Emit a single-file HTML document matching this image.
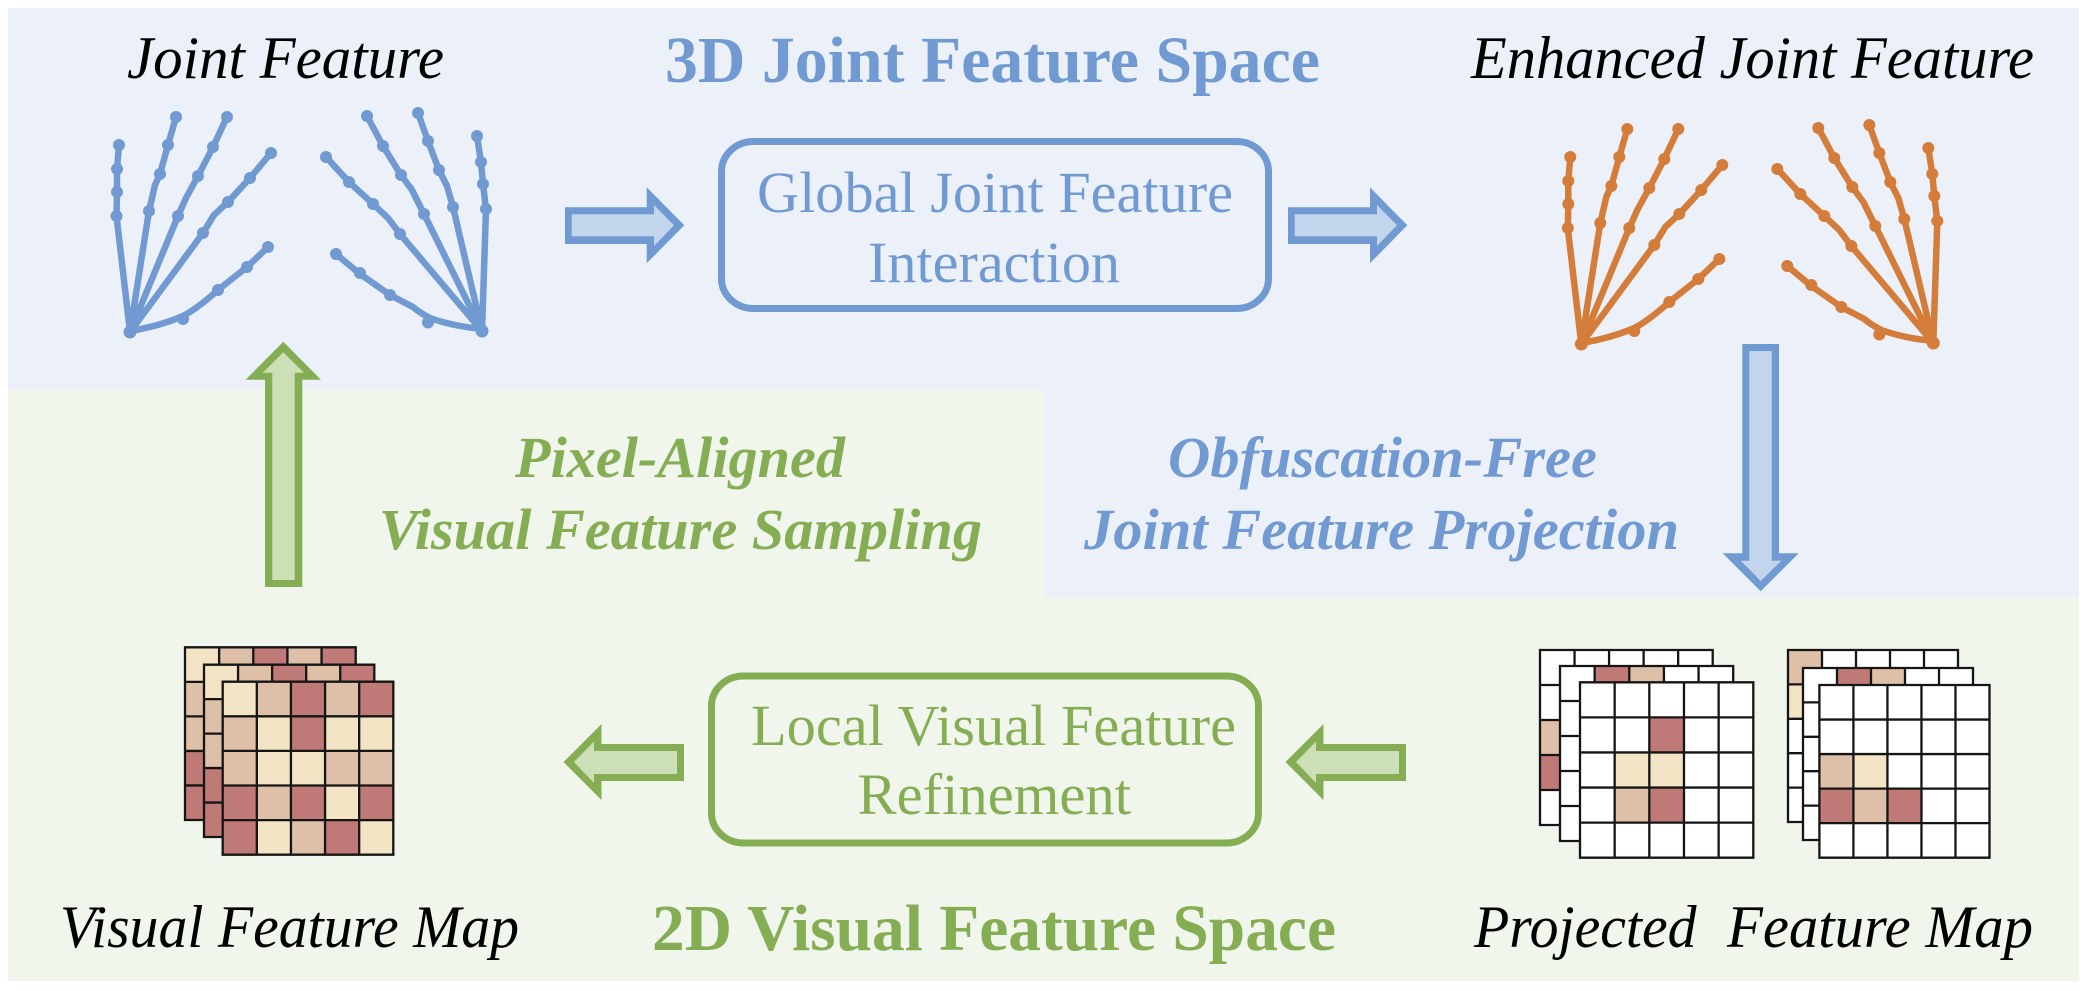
<!DOCTYPE html>
<html><head><meta charset="utf-8"><style>
html,body{margin:0;padding:0;background:#fff;width:2086px;height:991px;overflow:hidden}
svg{display:block}
text{font-family:"Liberation Serif",serif}
.it{font-style:italic;font-size:60px;fill:#000}
.bb{font-weight:bold;font-size:66px;fill:#719AD2}
.bg{font-weight:bold;font-size:66px;fill:#85AD53}
.bi{font-weight:bold;font-style:italic;font-size:58px;fill:#719AD2}
.gi{font-weight:bold;font-style:italic;font-size:58px;fill:#85AD53}
.rb{font-size:58px;fill:#719AD2}
.rg{font-size:58px;fill:#85AD53}
.ln{fill:none;stroke:#151515;stroke-width:2.300;vector-effect:non-scaling-stroke}
.Y{fill:#F2E4C4}.T{fill:#DEBFA7}.R{fill:#BF7A77}.W{fill:#fff}
.h path{fill:none;stroke:currentColor;stroke-width:6.500;stroke-linejoin:round;stroke-linecap:round}
.h circle{fill:currentColor}
</style></head><body>
<svg xmlns="http://www.w3.org/2000/svg" width="2086" height="991" viewBox="0 0 2086 991">
<defs>
<path id="l" class="ln" d="M0 0H5V5H0Z M1 0V5 M2 0V5 M3 0V5 M4 0V5 M0 1H5 M0 2H5 M0 3H5 M0 4H5"/>
<g id="vm">
<rect width="5" height="5" class="Y"/>
<rect x="1" y="0" width="1" height="1" class="T"/><rect x="2" y="0" width="1" height="1" class="R"/><rect x="3" y="0" width="1" height="1" class="T"/><rect x="4" y="0" width="1" height="1" class="R"/>
<rect x="0" y="1" width="1" height="1" class="T"/><rect x="2" y="1" width="1" height="1" class="R"/>
<rect x="0" y="2" width="1" height="1" class="T"/><rect x="3" y="2" width="1" height="1" class="T"/><rect x="4" y="2" width="1" height="1" class="T"/>
<rect x="0" y="3" width="1" height="1" class="R"/><rect x="1" y="3" width="1" height="1" class="T"/><rect x="2" y="3" width="1" height="1" class="R"/><rect x="4" y="3" width="1" height="1" class="R"/>
<rect x="0" y="4" width="1" height="1" class="R"/><rect x="2" y="4" width="1" height="1" class="T"/><rect x="3" y="4" width="1" height="1" class="R"/>
<use href="#l"/>
</g>
<g id="hand" class="h">
<path d="M130 332L116.500 216L117 192L117 169L119 145"/>
<path d="M130 332L149 211L155 185L160 174L168 145L176 117"/>
<path d="M130 332L178 216L186 198L198 176L213 147L227 117"/>
<path d="M130 332L203 233L214 215L228 202L250 178L271 153"/>
<path d="M130 331Q160 326 183 316Q198 308 218 290L247 267L268 247"/>
<path d="M482 331L486 209L483 184L481 162L477 136"/>
<path d="M482 331L453 207L447 186L439 170L428 141L418 113"/>
<path d="M482 331L424 214L412 190L401 175L383 146L367 116"/>
<path d="M482 331L400 234L388 218L373 204L349 182L326 157"/>
<path d="M482 329Q452 326 430 318Q420 313 413 307L390 295L360 274L336 254"/>
<g>
<circle cx="130" cy="332" r="6.500"/><circle cx="119" cy="145" r="6"/><circle cx="117" cy="169" r="6"/><circle cx="117" cy="192" r="6"/><circle cx="116.500" cy="216" r="6"/>
<circle cx="176" cy="117" r="6"/><circle cx="168" cy="145" r="6"/><circle cx="160" cy="174" r="6"/><circle cx="149" cy="211" r="6"/>
<circle cx="227" cy="117" r="6"/><circle cx="213" cy="147" r="6"/><circle cx="198" cy="176" r="6"/><circle cx="178" cy="216" r="6"/>
<circle cx="271" cy="153" r="6"/><circle cx="250" cy="178" r="6"/><circle cx="228" cy="202" r="6"/><circle cx="203" cy="233" r="6"/>
<circle cx="268" cy="247" r="6"/><circle cx="247" cy="267" r="6"/><circle cx="218" cy="290" r="6"/><circle cx="183" cy="319" r="6"/>
<circle cx="482" cy="331" r="6.500"/><circle cx="477" cy="136" r="6"/><circle cx="481" cy="162" r="6"/><circle cx="483" cy="184" r="6"/><circle cx="486" cy="209" r="6"/>
<circle cx="418" cy="113" r="6"/><circle cx="428" cy="141" r="6"/><circle cx="439" cy="170" r="6"/><circle cx="453" cy="207" r="6"/>
<circle cx="367" cy="116" r="6"/><circle cx="383" cy="146" r="6"/><circle cx="401" cy="175" r="6"/><circle cx="424" cy="214" r="6"/>
<circle cx="326" cy="157" r="6"/><circle cx="349" cy="182" r="6"/><circle cx="373" cy="204" r="6"/><circle cx="400" cy="234" r="6"/>
<circle cx="336" cy="254" r="6"/><circle cx="360" cy="273" r="6"/><circle cx="390" cy="295" r="6"/><circle cx="428" cy="322.500" r="6"/>
</g>
</g>
</defs>

<!-- panels -->
<rect width="2086" height="991" fill="#fff"/>
<path fill="#ECF1F9" d="M8 8H2079V597H1044V390H8Z"/>
<path fill="#F0F6EC" d="M8 390H1044V597H2079V981H8Z"/>

<!-- hands -->
<use href="#hand" style="color:#719AD2"/>
<use href="#hand" style="color:#D47D3A" transform="translate(1451.300,12)"/>

<!-- boxes -->
<rect x="721.500" y="141.500" width="547" height="167" rx="32" ry="30" fill="none" stroke="#719AD2" stroke-width="7"/>
<rect x="711.500" y="676" width="547" height="167" rx="32" ry="30" fill="none" stroke="#85AD53" stroke-width="7"/>

<!-- horizontal blue arrows -->
<path fill="#719AD2" d="M565 207.300H646.700V187.300L684.300 225.300L646.700 263.300V244H565Z"/>
<path fill="#C3D5ED" d="M571.700 214.300H654V205L674 225.300L654 246V236.300H571.700Z"/>
<path fill="#719AD2" d="M1288 207.300H1370V187.300L1407.300 225.300L1370 263.300V244H1288Z"/>
<path fill="#C3D5ED" d="M1294.700 214.300H1377V205L1397 225.300L1377 246V236.300H1294.700Z"/>

<!-- horizontal green arrows -->
<path fill="#85AD53" d="M684 744H601.500V724L563.500 762L601.500 800V781H684Z"/>
<path fill="#CDDFB6" d="M677 751H594V741.500L574 762L594 783V774H677Z"/>
<path fill="#85AD53" d="M1406 744H1323.500V724L1285.500 762L1323.500 800V781H1406Z"/>
<path fill="#CDDFB6" d="M1399 751H1316V741.500L1296 762L1316 783V774H1399Z"/>

<!-- vertical green arrow -->
<path fill="#85AD53" d="M265 587V379.700H245.700L283.300 341.700L321 379.700H302.300V587Z"/>
<path fill="#CDDFB6" d="M272.300 580V372.700H262.700L283.300 352.300L304 372.700H294.700V580Z"/>

<!-- vertical blue arrow -->
<path fill="#719AD2" d="M1742.300 344V553.300H1722.700L1760.700 591.300L1798.700 553.300H1779V344Z"/>
<path fill="#C3D5ED" d="M1749.300 351V560.700H1740.700L1760.700 581L1781.300 560.700H1771.700V351Z"/>

<!-- visual feature map -->
<use href="#vm" transform="translate(185,647.300) scale(34.140,34.540)"/>
<use href="#vm" transform="translate(204,664.700) scale(34.060,34.460)"/>
<use href="#vm" transform="translate(222.700,681.700) scale(34.120,34.600)"/>

<!-- projected map left -->
<g transform="translate(1540,650) scale(34.540,35)">
<rect width="5" height="5" class="W"/><rect x="0" y="2" width="1" height="1" class="T"/><rect x="0" y="3" width="1" height="1" class="R"/><use href="#l"/>
</g>
<g transform="translate(1560,666) scale(34.640,35)">
<rect width="5" height="5" class="W"/><rect x="1" y="0" width="1" height="1" class="R"/><rect x="2" y="0" width="1" height="1" class="T"/><use href="#l"/>
</g>
<g transform="translate(1580,682.300) scale(34.660,35.080)">
<rect width="5" height="5" class="W"/><rect x="2" y="1" width="1" height="1" class="R"/><rect x="1" y="2" width="1" height="1" class="Y"/><rect x="2" y="2" width="1" height="1" class="Y"/><rect x="1" y="3" width="1" height="1" class="T"/><rect x="2" y="3" width="1" height="1" class="R"/><use href="#l"/>
</g>

<!-- projected map right -->
<g transform="translate(1788,650) scale(34,34.400)">
<rect width="5" height="5" class="W"/><rect x="0" y="0" width="1" height="1" class="T"/><rect x="0" y="1" width="1" height="1" class="Y"/><use href="#l"/>
</g>
<g transform="translate(1803,668) scale(34,34.400)">
<rect width="5" height="5" class="W"/><rect x="1" y="0" width="1" height="1" class="R"/><rect x="2" y="0" width="1" height="1" class="T"/><use href="#l"/>
</g>
<g transform="translate(1819.400,685) scale(34.020,34.540)">
<rect width="5" height="5" class="W"/><rect x="0" y="2" width="1" height="1" class="T"/><rect x="1" y="2" width="1" height="1" class="Y"/><rect x="0" y="3" width="1" height="1" class="R"/><rect x="1" y="3" width="1" height="1" class="T"/><rect x="2" y="3" width="1" height="1" class="R"/><use href="#l"/>
</g>

<!-- text -->
<text class="it" x="127" y="78" textLength="317" lengthAdjust="spacingAndGlyphs">Joint Feature</text>
<text class="it" x="1471" y="78" textLength="563" lengthAdjust="spacingAndGlyphs">Enhanced Joint Feature</text>
<text class="bb" x="665" y="82" textLength="655" lengthAdjust="spacingAndGlyphs">3D Joint Feature Space</text>
<text class="rb" x="757" y="212" textLength="476" lengthAdjust="spacingAndGlyphs">Global Joint Feature</text>
<text class="rb" x="868" y="282" textLength="252" lengthAdjust="spacingAndGlyphs">Interaction</text>
<text class="rg" x="751" y="745" textLength="485" lengthAdjust="spacingAndGlyphs">Local Visual Feature</text>
<text class="rg" x="857.500" y="814" textLength="273.500" lengthAdjust="spacingAndGlyphs">Refinement</text>
<text class="gi" x="515" y="477" textLength="330" lengthAdjust="spacingAndGlyphs">Pixel-Aligned</text>
<text class="gi" x="379" y="549" textLength="603" lengthAdjust="spacingAndGlyphs">Visual Feature Sampling</text>
<text class="bi" x="1168" y="477" textLength="429" lengthAdjust="spacingAndGlyphs">Obfuscation-Free</text>
<text class="bi" x="1084" y="549" textLength="595" lengthAdjust="spacingAndGlyphs">Joint Feature Projection</text>
<text class="it" x="60" y="947" textLength="459" lengthAdjust="spacingAndGlyphs">Visual Feature Map</text>
<text class="bg" x="652" y="950" textLength="684" lengthAdjust="spacingAndGlyphs">2D Visual Feature Space</text>
<text class="it" x="1474" y="947" textLength="222.500" lengthAdjust="spacingAndGlyphs">Projected</text>
<text class="it" x="1727" y="947" textLength="306" lengthAdjust="spacingAndGlyphs">Feature Map</text>
</svg>
</body></html>
